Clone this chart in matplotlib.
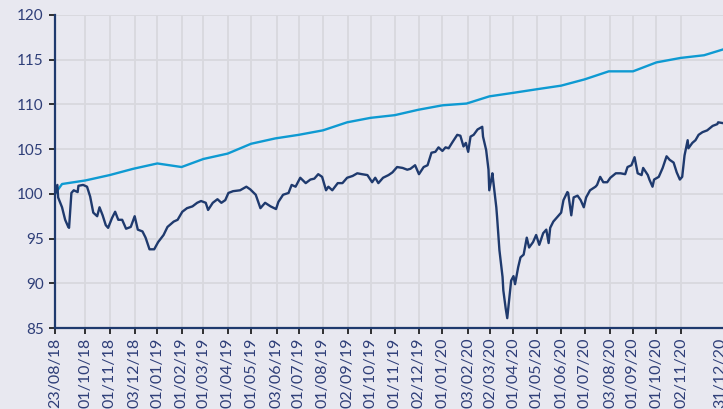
import datetime as dt
import matplotlib
matplotlib.use("Agg")
import matplotlib.pyplot as plt

start = dt.date(2018, 8, 23)

# Benchmark (light blue), monthly points
bench_dates = ["23/08/18", "01/09/18", "01/10/18", "01/11/18", "01/12/18", "01/01/19",
               "01/02/19", "01/03/19", "01/04/19", "01/05/19", "01/06/19", "01/07/19",
               "01/08/19", "01/09/19", "01/10/19", "01/11/19", "01/12/19", "01/01/20",
               "01/02/20", "01/03/20", "01/04/20", "01/05/20", "01/06/20", "01/07/20",
               "01/08/20", "01/09/20", "01/10/20", "01/11/20", "01/12/20", "31/12/20"]
bench_vals = [100.0, 101.1, 101.5, 102.1, 102.8, 103.4,
              103.0, 103.9, 104.5, 105.6, 106.2, 106.6,
              107.1, 108.0, 108.5, 108.8, 109.4, 109.9,
              110.1, 110.9, 111.3, 111.7, 112.1, 112.8,
              113.7, 113.7, 114.7, 115.2, 115.5, 116.3]

# Portfolio (dark navy): days since 23/08/18 and values
port_days = [0, 3, 4, 9, 13, 17, 18, 21, 24, 29, 30, 36, 41, 45, 49, 54, 57, 61, 65, 68,
             73, 77, 81, 86, 91, 97, 102, 106, 112, 116, 121, 127, 132, 139, 144, 152,
             157, 163, 169, 176, 182, 187, 193, 196, 202, 208, 213, 218, 222, 228, 237,
             245, 250, 257, 263, 269, 276, 283, 286, 292, 299, 303, 308, 314, 321, 327,
             332, 337, 342, 347, 350, 355, 362, 368, 374, 381, 387, 393, 400, 406, 410,
             414, 420, 427, 432, 438, 445, 451, 455, 461, 466, 472, 477, 482, 487, 491,
             496, 500, 504, 509, 515, 519, 523, 526, 529, 532, 536, 541, 547, 548, 552,
             555, 556, 560, 561, 565, 566, 569, 573, 574, 577, 579, 582, 584, 587, 589,
             593, 596, 600, 604, 607, 612, 616, 620, 625, 629, 632, 634, 638, 643, 648,
             651, 656, 657, 661, 664, 669, 673, 677, 680, 685, 692, 694, 698, 702, 707,
             711, 718, 724, 730, 733, 738, 742, 746, 751, 753, 759, 761, 765, 767, 773,
             778, 783, 787, 792, 796, 800, 803, 806, 810, 811, 816, 820, 824, 829, 835,
             842, 848, 849, 856, 861]
port_vals = [100.0, 101.0, 99.6, 98.5, 97.1, 96.3, 96.2, 100.1, 100.4, 100.2, 100.9, 101.0,
             100.8, 99.7, 97.9, 97.5, 98.5, 97.6, 96.5, 96.2,
             97.3, 98.0, 97.1, 97.1, 96.1, 96.3, 97.5, 96.0, 95.8, 95.1, 93.8, 93.8, 94.6,
             95.4, 96.3, 96.9,
             97.1, 98.0, 98.4, 98.6, 99.0, 99.2, 99.0, 98.2, 99.0, 99.4, 99.0, 99.3, 100.1,
             100.3, 100.4,
             100.8, 100.5, 99.9, 98.4, 99.0, 98.6, 98.3, 99.1, 99.9, 100.1, 101.0, 100.8,
             101.8, 101.2, 101.6,
             101.7, 102.2, 101.9, 100.4, 100.8, 100.4, 101.2, 101.2, 101.8, 102.0, 102.3,
             102.2, 102.1, 101.3, 101.8,
             101.2, 101.8, 102.1, 102.4, 103.0, 102.9, 102.7, 102.8, 103.2, 102.2, 103.0,
             103.2, 104.6, 104.7, 105.2,
             104.8, 105.2, 105.1, 105.8, 106.6, 106.5, 105.3, 105.7, 104.7, 106.4, 106.6,
             107.2, 107.5, 106.4, 104.9,
             102.7, 100.4, 102.3, 101.5, 98.5, 97.4, 93.7, 90.7, 89.2, 87.2, 86.1, 88.6,
             90.3, 90.8, 89.9,
             91.8, 92.9, 93.2, 95.1, 94.0, 94.6, 95.4, 94.3, 95.6, 96.0, 94.5, 96.2, 96.9,
             97.4, 97.9,
             99.3, 100.2, 100.1, 97.6, 99.6, 99.8, 99.3, 98.5, 99.6, 100.4, 100.8, 101.0,
             101.9, 101.3, 101.3,
             101.8, 102.3, 102.3, 102.2, 103.0, 103.2, 104.1, 102.3, 102.1, 102.9, 102.1,
             101.6, 100.8, 101.6, 101.9,
             102.9, 104.2, 103.8, 103.5, 102.4, 101.6, 101.9, 104.3, 106.0, 105.1, 105.7,
             106.0, 106.6, 106.9, 107.1,
             107.6, 107.8, 108.0, 107.9, 108.0]

tick_labels = ["23/08/18", "01/10/18", "01/11/18", "03/12/18", "01/01/19", "01/02/19",
               "01/03/19", "01/04/19", "01/05/19", "03/06/19", "01/07/19", "01/08/19",
               "02/09/19", "01/10/19", "01/11/19", "02/12/19", "01/01/20", "03/02/20",
               "02/03/20", "01/04/20", "01/05/20", "01/06/20", "01/07/20", "03/08/20",
               "01/09/20", "01/10/20", "02/11/20", "31/12/20"]
y_ticks = [85, 90, 95, 100, 105, 110, 115, 120]


def parse(s):
    return dt.datetime.strptime(s, "%d/%m/%y")


bench_x = [parse(s) for s in bench_dates]
port_x = [dt.datetime.combine(start, dt.time()) + dt.timedelta(days=d) for d in port_days]
tick_x = [parse(s) for s in tick_labels]

BG = "#E8E8F0"
GRID = "#D8D8DE"
NAVY = "#1F3A6E"
LBLUE = "#0E9AD2"
TXT = "#2E3E78"

plt.rcParams["font.family"] = ["Lato", "DejaVu Sans"]

fig = plt.figure(figsize=(7.23, 4.09), dpi=100, facecolor=BG)
W, H = 723, 409
left_px, right_px, top_px, bot_px = 55, 727.5, 15, 328
ax = fig.add_axes([left_px / W, 1 - bot_px / H, (right_px - left_px) / W, (bot_px - top_px) / H])
ax.set_facecolor(BG)

ax.plot(bench_x, bench_vals, color=LBLUE, lw=1.7, zorder=3, solid_joinstyle="round")
ax.plot(port_x, port_vals, color=NAVY, lw=1.7, zorder=4, solid_joinstyle="round")

ax.set_xlim(parse("23/08/18"), parse("31/12/20"))
ax.set_ylim(85, 120)
ax.set_yticks(y_ticks)
ax.set_yticklabels([str(v) for v in y_ticks])
ax.set_xticks(tick_x)
ax.set_xticklabels(tick_labels, rotation=90)
last = ax.get_xticklabels()[-1]
last.set_horizontalalignment("right")

ax.grid(True, color=GRID, lw=1.3, zorder=0)
for s in ["top", "right"]:
    ax.spines[s].set_visible(False)
for s in ["left", "bottom"]:
    ax.spines[s].set_color(NAVY)
    ax.spines[s].set_linewidth(1.6)
    ax.spines[s].set_zorder(5)

ax.tick_params(axis="both", colors="#111111", length=4, width=1.2, labelcolor=TXT)
ax.tick_params(axis="y", pad=4, labelsize=11)
ax.tick_params(axis="x", pad=3, labelsize=11.5)

fig.savefig("out.png", dpi=100, facecolor=BG)
